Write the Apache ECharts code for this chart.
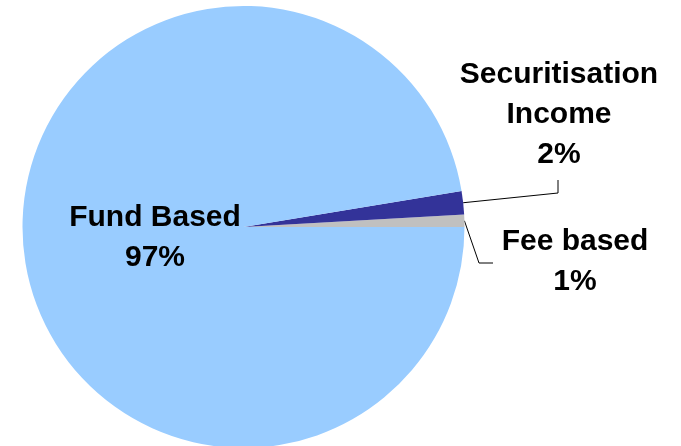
<!DOCTYPE html>
<html>
<head>
<meta charset="utf-8">
<script src="https://cdn.jsdelivr.net/npm/echarts@6/dist/echarts.min.js"></script>
<style>
html,body{margin:0;padding:0;background:#fff;}
#chart{width:681px;height:446px;}
</style>
</head>
<body>
<div id="chart"></div>
<script>
// Data (ordered counter-clockwise from 3 o'clock)
var categories = ['Fee based', 'Securitisation\nIncome', 'Fund Based'];
var values = [0.9, 1.7, 97.4];
var colors = ['#C0C0C0', '#333399', '#99CCFF'];

var chart = echarts.init(document.getElementById('chart'), null, {renderer: 'canvas'});

var data = categories.map(function (c, i) {
  var item = { name: c, value: values[i], itemStyle: { color: colors[i] } };
  if (i === 2) {
    item.label = { position: 'inside' };
    item.labelLine = { show: false };
  }
  return item;
});

// label placement (text block centres) and leader-line bends
var labelSpots = [
  { x: 575, y: 262, bend: [[479, 263], [493, 263]] },
  { x: 559, y: 115, bend: [[558, 193], [558, 180]] },
  { x: 155, y: 238, bend: null }
];

chart.setOption({
  animation: false,
  backgroundColor: '#ffffff',
  series: [{
    type: 'pie',
    center: [243.5, 227],
    radius: 221,
    startAngle: 0,
    clockwise: false,
    percentPrecision: 0,
    data: data,
    itemStyle: { borderWidth: 0 },
    label: {
      show: true,
      position: 'outside',
      formatter: '{b}\n{d}%',
      fontFamily: 'Liberation Sans, Arial, sans-serif',
      fontWeight: 'bold',
      fontSize: 30,
      lineHeight: 40,
      color: '#000',
      align: 'center',
      overflow: 'none',
      width: 260
    },
    labelLine: {
      show: true,
      lineStyle: { color: '#000', width: 1 }
    },
    labelLayout: function (params) {
      var s = labelSpots[params.dataIndex];
      var res = { x: s.x, y: s.y, align: 'center', verticalAlign: 'middle' };
      if (s.bend && params.labelLinePoints) {
        res.labelLinePoints = [params.labelLinePoints[0], s.bend[0], s.bend[1]];
      }
      return res;
    }
  }]
});
</script>
</body>
</html>
